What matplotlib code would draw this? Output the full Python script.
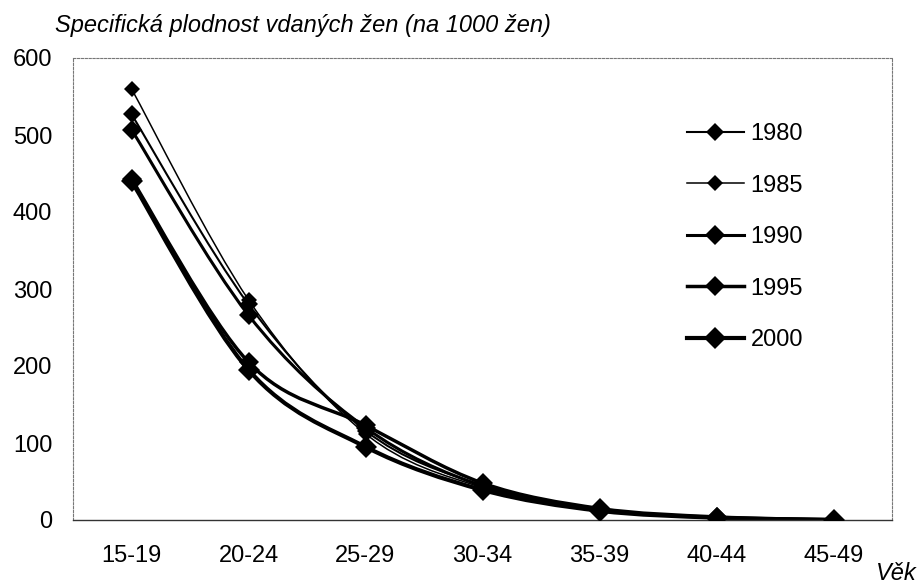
import matplotlib
matplotlib.use('Agg')
import matplotlib.pyplot as plt
from matplotlib.path import Path
from matplotlib.patches import PathPatch
from matplotlib.lines import Line2D
import numpy as np

plt.rcParams['font.family'] = ['Liberation Sans', 'DejaVu Sans']
plt.rcParams['font.size'] = 17

# data (births per 1000 married women)
ages = ['15-19', '20-24', '25-29', '30-34', '35-39', '40-44', '45-49']
years = ['1980', '1985', '1990', '1995', '2000']
f1980 = [527, 280, 116, 45, 14, 3, 0.3]
f1985 = [560, 286, 112, 42, 13, 3, 0.2]
f1990 = [507, 266, 120, 44, 14, 3, 0.3]
f1995 = [443, 205, 123, 48, 15, 4, 0.3]
f2000 = [440, 195, 95, 39, 12, 3, 0.2]
series = [f1980, f1985, f1990, f1995, f2000]

# line width / marker size per series (thin ones first)
widths = [1.5, 1.1, 2.2, 2.5, 3.0]
msizes = [9, 8, 10, 10, 11]


def smooth_path(xs, ys):
    # excel-like smoothed line: cubic bezier through every point
    pts = np.column_stack([xs, ys]).astype(float)
    n = len(pts)
    verts = [tuple(pts[0])]
    codes = [Path.MOVETO]
    for i in range(n - 1):
        p0 = pts[max(i - 1, 0)]
        p1 = pts[i]
        p2 = pts[i + 1]
        p3 = pts[min(i + 2, n - 1)]
        c1 = p1 + (p2 - p0) / 6.0
        c2 = p2 - (p3 - p1) / 6.0
        verts += [tuple(c1), tuple(c2), tuple(p2)]
        codes += [Path.CURVE4] * 3
    return Path(verts, codes)


fig = plt.figure(figsize=(9.19, 5.84), dpi=100)
ax = fig.add_axes([73/919, 64/584, 819/919, 462/584])

x = np.arange(len(ages))
handles = []
for vals, lw, ms in zip(series, widths, msizes):
    ax.add_patch(PathPatch(smooth_path(x, vals), fill=False, lw=lw,
                           edgecolor='k', zorder=2))
    ax.plot(x, vals, linestyle='none', marker='D', ms=ms, color='k',
            markeredgewidth=0, zorder=3)
    handles.append(Line2D([], [], color='k', lw=lw, marker='D', ms=ms,
                          markeredgewidth=0))

ax.set_xlim(-0.5, len(ages) - 0.5)
ax.set_ylim(0, 600)
ax.set_xticks(x)
ax.set_xticklabels(ages)
ax.set_yticks(range(0, 601, 100))
ax.tick_params(axis='both', length=0)
ax.tick_params(axis='y', pad=15)
ax.tick_params(axis='x', pad=18)

for side in ['top', 'right', 'left']:
    ax.spines[side].set_linestyle((0, (2, 1.5)))
    ax.spines[side].set_color('#777777')
    ax.spines[side].set_linewidth(0.8)
ax.spines['bottom'].set_linestyle((0, (3, 1)))
ax.spines['bottom'].set_color('#333333')
ax.spines['bottom'].set_linewidth(1.0)

ax.legend(handles, years, loc='upper left',
          bbox_to_anchor=(687/919, 1 - 123/584), bbox_transform=fig.transFigure,
          frameon=False, borderpad=0, borderaxespad=0,
          handlelength=2.4, handletextpad=0.3, labelspacing=1.25)

fig.text(55/919, 1 - 32/584, 'Specifická plodnost vdaných žen (na 1000 žen)',
         style='italic', va='baseline', ha='left')
fig.text(876/919, 4/584, 'Věk', style='italic', va='baseline', ha='left')

fig.savefig('out.png', dpi=100)
